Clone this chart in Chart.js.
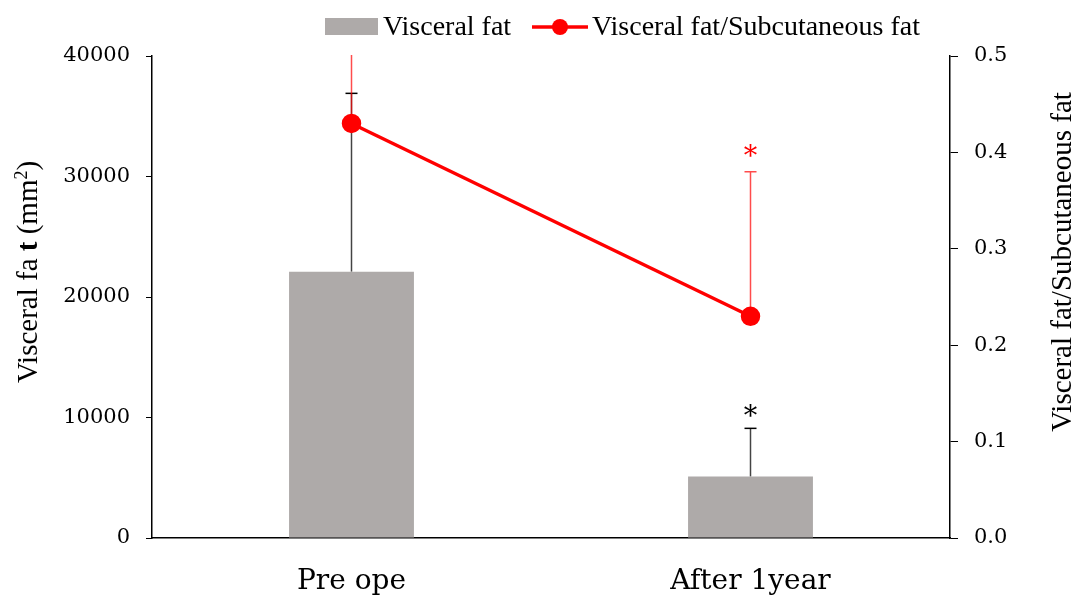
<!DOCTYPE html>
<html>
<head>
<meta charset="utf-8">
<script src="https://cdn.jsdelivr.net/npm/chart.js@4"></script>
<style>
  html, body { margin: 0; padding: 0; background: #fff; }
  canvas { display: block; }
</style>
</head>
<body>
<canvas id="fat-chart" width="1076" height="598"></canvas>
<script>
// Values
const categories = ['Pre ope', 'After 1year'];
const visceralFat = [22100, 5100];
const visceralFatSD = [14800, 4000];
const fatRatio = [0.43, 0.23];
const fatRatioSD = [0.13, 0.15];
const visceralSig = ['', '*'];
const ratioSig = ['', '*'];

const barLabel = 'Visceral fat';
const lineLabel = 'Visceral fat/Subcutaneous fat';
// left title pieces: plain, bold, plain, superscript, plain
const leftTitleParts = [
    ['Visceral fa ', ''], ['t', 'bold '], [' (mm', ''], ['2', 'sup'], [')', '']
];
const rightTitle = 'Visceral fat/Subcutaneous fat';

const BAR_GRAY = '#aeaaa9';
const RED = '#ff0000';
const TICK_FONT = { family: 'DejaVu Serif', size: 21 };

// upward-only error bars, drawn before the datasets so points sit on top
const errorBars = {
    id: 'errorBars',
    beforeDatasetsDraw(chart) {
        const ctx = chart.ctx;
        const area = chart.chartArea;
        const x = chart.scales.x;
        ctx.save();
        ctx.beginPath();
        ctx.rect(area.left, area.top - 1, area.right - area.left, area.bottom - area.top + 1);
        ctx.clip();

        const y = chart.scales.y;
        visceralFat.forEach((v, i) => {
            const px = x.getPixelForValue(i);
            const top = y.getPixelForValue(v + visceralFatSD[i]);
            ctx.strokeStyle = '#444';
            ctx.lineWidth = 1.5;
            ctx.beginPath();
            ctx.moveTo(px, y.getPixelForValue(v));
            ctx.lineTo(px, top);
            ctx.stroke();
            ctx.strokeStyle = '#000';
            ctx.beginPath();
            ctx.moveTo(px - 6, top);
            ctx.lineTo(px + 6, top);
            ctx.stroke();
        });

        const y1 = chart.scales.y1;
        fatRatio.forEach((v, i) => {
            const px = x.getPixelForValue(i);
            const top = y1.getPixelForValue(v + fatRatioSD[i]);
            ctx.strokeStyle = 'rgba(255, 0, 0, 0.7)';
            ctx.lineWidth = 1.5;
            ctx.beginPath();
            ctx.moveTo(px, y1.getPixelForValue(v));
            ctx.lineTo(px, top);
            ctx.moveTo(px - 6, top);
            ctx.lineTo(px + 6, top);
            ctx.stroke();
        });
        ctx.restore();

        // significance marks
        ctx.save();
        ctx.font = '27px "DejaVu Serif"';
        ctx.textAlign = 'center';
        ctx.textBaseline = 'alphabetic';
        visceralSig.forEach((s, i) => {
            if (!s) return;
            ctx.fillStyle = '#000';
            ctx.fillText(s, x.getPixelForValue(i), y.getPixelForValue(visceralFat[i] + visceralFatSD[i]) - 3);
        });
        ratioSig.forEach((s, i) => {
            if (!s) return;
            ctx.fillStyle = RED;
            ctx.fillText(s, x.getPixelForValue(i), y1.getPixelForValue(fatRatio[i] + fatRatioSD[i]) - 7);
        });
        ctx.restore();
    }
};

// legend + axis titles (both titles read bottom to top)
const decorations = {
    id: 'decorations',
    afterDraw(chart) {
        const ctx = chart.ctx;
        ctx.save();
        ctx.font = '28px "Liberation Serif"';
        ctx.textBaseline = 'middle';
        ctx.fillStyle = BAR_GRAY;
        ctx.fillRect(325, 18, 53, 17);
        ctx.fillStyle = '#000';
        ctx.fillText(barLabel, 383, 28);
        ctx.strokeStyle = RED;
        ctx.lineWidth = 3.5;
        ctx.beginPath();
        ctx.moveTo(532, 27);
        ctx.lineTo(588, 27);
        ctx.stroke();
        ctx.fillStyle = RED;
        ctx.beginPath();
        ctx.arc(560, 27, 8, 0, Math.PI * 2);
        ctx.fill();
        ctx.fillStyle = '#000';
        ctx.fillText(lineLabel, 592, 28);
        ctx.restore();

        // left title, built from pieces
        ctx.save();
        ctx.fillStyle = '#000';
        ctx.textBaseline = 'alphabetic';
        ctx.translate(37, 272);
        ctx.rotate(-Math.PI / 2);
        const fontFor = style => style === 'sup' ? '18px "Liberation Serif"'
            : style + '29px "Liberation Serif"';
        let total = 0;
        leftTitleParts.forEach(([t, style]) => {
            ctx.font = fontFor(style);
            total += ctx.measureText(t).width;
        });
        let cx = -total / 2;
        leftTitleParts.forEach(([t, style]) => {
            ctx.font = fontFor(style);
            ctx.fillText(t, cx, style === 'sup' ? -10 : 0);
            cx += ctx.measureText(t).width;
        });
        ctx.restore();

        ctx.save();
        ctx.font = '29px "Liberation Serif"';
        ctx.textAlign = 'center';
        ctx.textBaseline = 'middle';
        ctx.fillStyle = '#000';
        ctx.translate(1063, 262);
        ctx.rotate(-Math.PI / 2);
        ctx.fillText(rightTitle, 0, 0);
        ctx.restore();
    }
};

const ctx = document.getElementById('fat-chart').getContext('2d');
new Chart(ctx, {
    data: {
        labels: categories,
        datasets: [
            {
                type: 'line',
                label: lineLabel,
                data: fatRatio,
                yAxisID: 'y1',
                borderColor: RED,
                backgroundColor: RED,
                borderWidth: 3.5,
                pointRadius: 8,
                pointHoverRadius: 8,
                fill: false,
                order: 0
            },
            {
                type: 'bar',
                label: barLabel,
                data: visceralFat,
                yAxisID: 'y',
                backgroundColor: BAR_GRAY,
                barPercentage: 0.313,
                categoryPercentage: 1,
                order: 1
            }
        ]
    },
    options: {
        responsive: false,
        animation: false,
        devicePixelRatio: 1,
        layout: { padding: { top: 56, left: 0, right: 0, bottom: 0 } },
        plugins: {
            legend: { display: false },
            tooltip: { enabled: false }
        },
        scales: {
            x: {
                grid: { display: false, drawTicks: false },
                border: { color: '#000', width: 1.5 },
                ticks: { color: '#000', font: { family: 'DejaVu Serif', size: 28 }, padding: 27 },
                afterFit: s => { s.height = 60; }
            },
            y: {
                position: 'left',
                min: 0,
                max: 40000,
                grid: { drawOnChartArea: false, color: '#000', tickLength: 6, tickWidth: 1 },
                border: { color: '#000', width: 1.5 },
                ticks: { stepSize: 10000, color: '#000', font: TICK_FONT, padding: 16,
                         callback: v => String(v) },
                afterFit: s => { s.width = 152; }
            },
            y1: {
                position: 'right',
                min: 0,
                max: 0.5,
                grid: { drawOnChartArea: false, color: '#000', tickLength: 8, tickWidth: 1 },
                border: { color: '#000', width: 1.5 },
                ticks: { stepSize: 0.1, color: '#000', font: TICK_FONT, padding: 16,
                         callback: v => v.toFixed(1) },
                afterFit: s => { s.width = 126; }
            }
        }
    },
    plugins: [errorBars, decorations]
});
</script>
</body>
</html>
